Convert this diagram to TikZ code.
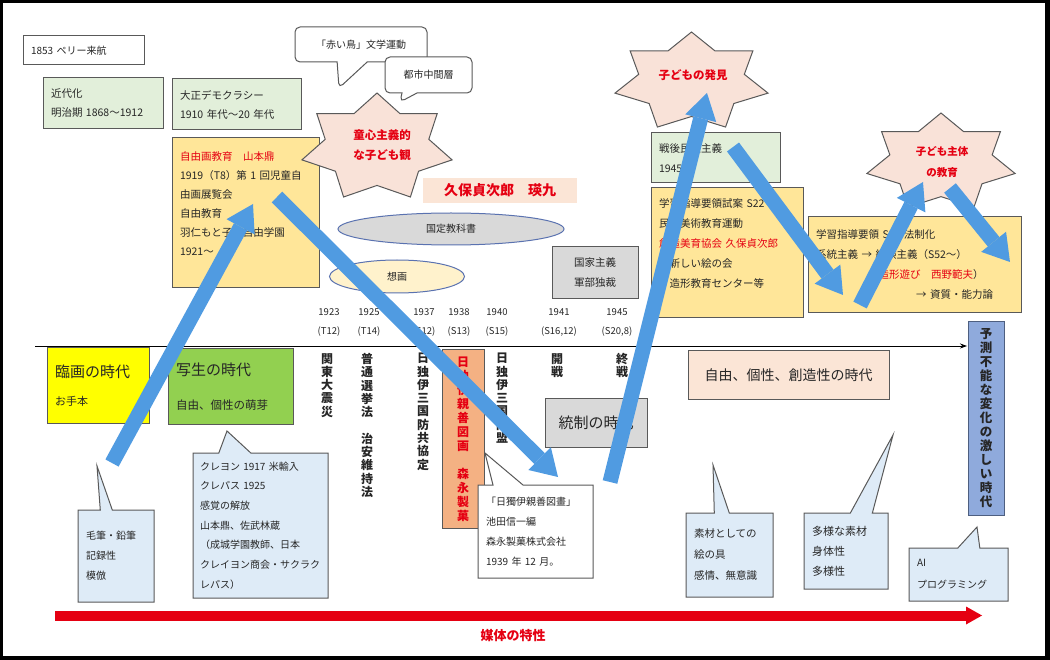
\documentclass[tikz,border=0pt]{standalone}
\usepackage{fontspec}
\setmainfont{Noto Sans CJK JP}
\usetikzlibrary{arrows.meta,shapes.geometric,shapes.callouts}

\definecolor{ink}{HTML}{262626}
\definecolor{edge}{HTML}{595959}
\definecolor{paleGreen}{HTML}{E2EFDA}
\definecolor{gold}{HTML}{FFE699}
\definecolor{peach}{HTML}{FBE5D6}
\definecolor{starPink}{HTML}{F9E2D8}
\definecolor{greyFill}{HTML}{D9D9D9}
\definecolor{cream}{HTML}{FFF2CC}
\definecolor{lemon}{HTML}{FFFF00}
\definecolor{leaf}{HTML}{92D050}
\definecolor{salmon}{HTML}{F4B183}
\definecolor{lav}{HTML}{8FAADC}
\definecolor{lavEdge}{HTML}{4E5F80}
\definecolor{skyPale}{HTML}{DEEBF7}
\definecolor{flowblue}{RGB}{80,155,225}
\definecolor{ellEdge}{HTML}{5A72B0}
\definecolor{hot}{HTML}{E50012}

\newcommand\jfs[2]{\fontsize{#1}{#2}\selectfont}
\newcommand\sevenstar[3]{%
  \begin{scope}[shift={#1}]
    \filldraw[burst] (90:#2pt and #3pt)
      \foreach \k [evaluate=\k as \r using {mod(\k,2)==0 ? 1 : 0.69}] in {1,...,13}
        { -- ({90+\k*360/14}:\r*#2pt and \r*#3pt) } -- cycle;
  \end{scope}}

\begin{document}
\begin{tikzpicture}[x=1pt,y=-1pt,text=ink,font=\jfs{10.5}{19},
    box/.style={draw=edge,line width=1pt,inner xsep=8pt,inner ysep=0pt,align=left},
    note/.style={rectangle callout,draw=edge,line width=1pt,fill=skyPale,
                 inner xsep=8pt,inner ysep=0pt,align=left,font=\jfs{10}{20}},
    burst/.style={draw=edge,line width=1pt,fill=starPink},
    star text/.style={align=center,text=hot,font=\jfs{11.5}{20}\bfseries},
    tate/.style={align=center,inner sep=0pt,anchor=north,font=\jfs{12}{13.3}\bfseries},
    year/.style={align=center,inner sep=0pt,font=\jfs{9.5}{19}},
    flow arrow/.style={draw=flowblue,line width=15pt,
                       -{Triangle[width=32pt,length=26pt,line width=0pt]}}]
  \fill (0,0) rectangle (1050,660);
  \fill[white] (3,3) rectangle (1045,656);

  \node[box,fill=white,text width=105pt,minimum height=29pt,font=\jfs{10}{19}] (perry) at (83.5,50.5) {1853 ペリー来航};
  \node[box,fill=paleGreen,text width=104pt,minimum height=51pt] (kindai) at (103,103.5) {近代化\\明治期 1868～1912};
  \node[box,fill=paleGreen,text width=113pt,minimum height=51pt] (taisho) at (236.5,104.5) {大正デモクラシー\\1910 年代～20 年代};
  \node[box,fill=gold,text width=131pt,minimum height=150pt] (jiyuga) at (245.5,213)
    {\textcolor{hot}{自由画教育　山本鼎}\\1919（T8）第 1 回児童自\\由画展覧会\\自由教育\\羽仁もと子　自由学園\\1921～\\\mbox{}};

  \node[box,fill=white,rounded corners=5pt,minimum width=132pt,minimum height=35pt,align=center,font=\jfs{10}{14},
        callout absolute pointer={(339,88)},callout pointer width=30pt,rectangle callout] (akai) at (361,44.5) {「赤い鳥」文学運動};
  \node[box,fill=white,rounded corners=5pt,minimum width=87pt,minimum height=36pt,align=center,font=\jfs{10}{14},
        callout absolute pointer={(400,102)},callout pointer width=15pt,rectangle callout] (toshi) at (428.5,75) {都市中間層};

  \sevenstar{(377,147.7)}{77}{54.7}
  \node[star text] (doshin) at (382,145) {童心主義的\\な子ども観};

  \node[fill=peach,minimum width=154pt,minimum height=25pt,text=hot,font=\jfs{14}{16}\bfseries] (kubo) at (500,190.5) {久保貞次郎　瑛九};
  \node[ellipse,draw=ellEdge,line width=1pt,fill=greyFill,minimum width=226pt,minimum height=32pt,font=\jfs{10}{12}] (kokutei) at (451,229) {国定教科書};
  \node[ellipse,draw=ellEdge,line width=1pt,fill=cream,minimum width=135pt,minimum height=33pt,font=\jfs{10}{12}] (soga) at (397,276.5) {想画};
  \node[box,fill=greyFill,minimum width=86pt,minimum height=52pt,align=center,font=\jfs{10.5}{20}] (kokka) at (595,273) {国家主義\\軍部独裁};

  \node[box,fill=paleGreen,text width=113pt,minimum height=50pt,font=\jfs{10.5}{20}] (sengo) at (715.5,158) {戦後民主主義\\1945};
  \node[box,fill=gold,text width=136pt,minimum height=130pt,font=\jfs{10.5}{20}] (shian) at (727,253)
    {学習指導要領試案 S22\\民間美術教育運動\\\textcolor{hot}{創造美育協会 久保貞次郎}\\・新しい絵の会\\・造形教育センター等\\\mbox{}};
  \node[box,fill=gold,text width=197pt,minimum height=96pt,font=\jfs{10.5}{20}] (hoseika) at (914.5,265)
    {学習指導要領 S33 法制化\\系統主義 → 経験主義（S52～）\\\hspace*{52pt}（\textcolor{hot}{造形遊び　西野範夫}）\\\hspace*{100pt}→ 資質・能力論};

  \sevenstar{(691.5,82)}{78.5}{50}
  \node[star text] (hakken) at (693,75) {子どもの発見};
  \sevenstar{(941,162.5)}{76}{49.5}
  \node[star text,font=\jfs{10.5}{21}\bfseries] (shutai) at (942,162) {子ども主体\\の教育};

  \node[year] (y1923) at (329,322.5) {1923\\(T12)};
  \node[year] (y1925) at (369,322.5) {1925\\(T14)};
  \node[year] (y1937) at (424,322.5) {1937\\(S12)};
  \node[year] (y1938) at (459,322.5) {1938\\(S13)};
  \node[year] (y1940) at (497,322.5) {1940\\(S15)};
  \node[year] (y1941) at (559,322.5) {1941\\(S16,12)};
  \node[year] (y1945) at (617,322.5) {1945\\(S20,8)};

  \coordinate (t0) at (35,346);
  \coordinate (t1) at (967,346);
  \draw[line width=0.8pt,-{Stealth[length=7pt,width=5pt]}] (t0) -- (t1);

  \node[box,fill=lemon,text width=86pt,minimum height=75pt,font=\jfs{15}{28}] (ringa) at (98,385.5) {臨画の時代\\{\jfs{11}{28}お手本}};
  \node[box,fill=leaf,text width=109pt,minimum height=75pt,font=\jfs{15}{34}] (shasei) at (230.5,386.5) {写生の時代\\{\jfs{11.5}{34}自由、個性の萌芽}};
  \node[box,fill=greyFill,minimum width=102pt,minimum height=49pt,align=center,font=\jfs{15}{18}] (tosei) at (596,422.5) {統制の時代};
  \node[box,fill=peach,minimum width=201pt,minimum height=48pt,align=center,font=\jfs{14}{18}] (sozo) at (788.5,375) {自由、個性、創造性の時代};
  \node[box,fill=salmon,minimum width=42pt,minimum height=178pt,align=center,inner xsep=0pt,text=hot,font=\jfs{12}{14}\bfseries] (morinaga) at (463,439)
    {日\\独\\伊\\親\\善\\図\\画\\\mbox{}\\森\\永\\製\\菓};
  \node[box,draw=lavEdge,fill=lav,minimum width=36pt,minimum height=193pt,align=center,inner xsep=0pt,font=\jfs{12.5}{14}\bfseries] (yosoku) at (986,418.5)
    {予\\測\\不\\能\\な\\変\\化\\の\\激\\し\\い\\時\\代};

  \node[tate] (kanto) at (327,353) {関\\東\\大\\震\\災};
  \node[tate] (senkyo) at (367,353) {普\\通\\選\\挙\\法\\\mbox{}\\治\\安\\維\\持\\法};
  \node[tate] (bokyo) at (423,353) {日\\独\\伊\\三\\国\\防\\共\\協\\定};
  \node[tate] (domei) at (502,353) {日\\独\\伊\\三\\国\\同\\盟};
  \node[tate] (kaisen) at (557,353) {開\\戦};
  \node[tate] (shusen) at (622,353) {終\\戦};

  \node[note,text width=60pt,minimum height=92pt,callout absolute pointer={(97,466)},callout pointer width=12pt] (mohitsu) at (116,556) {毛筆・鉛筆\\記録性\\模倣};
  \node[note,text width=121pt,inner xsep=7pt,minimum height=145pt,callout absolute pointer={(227,431)},callout pointer width=32pt,font=\jfs{10}{19.7}] (crayon) at (260.5,525.5)
    {クレヨン 1917 米輸入\\クレパス 1925\\感覚の解放\\山本鼎、佐武林蔵\\（成城学園教師、日本\\クレイヨン商会・サクラク\\レパス）};
  \node[note,fill=white,text width=99pt,minimum height=93pt,callout absolute pointer={(485,453)},callout pointer width=30pt] (nichidoku) at (535.5,531.5)
    {「日獨伊親善図畫」\\池田信一編\\森永製菓株式会社\\1939 年 12 月。};
  \node[note,text width=71pt,minimum height=84pt,callout absolute pointer={(713,465)},callout pointer width=15pt,font=\jfs{10.5}{21}] (sozai) at (729.5,555) {素材としての\\絵の具\\感情、無意識};
  \node[note,text width=68pt,minimum height=76pt,callout absolute pointer={(893,435)},callout pointer width=22pt,font=\jfs{11}{20}] (tayo) at (846,551) {多様な素材\\身体性\\多様性};
  \node[note,text width=83pt,minimum height=53pt,callout absolute pointer={(977,527)},callout pointer width=22pt,font=\jfs{10}{22}] (ai) at (958.5,574.5) {AI\\プログラミング};

  \coordinate (m0) at (55,615.5);
  \coordinate (m1) at (982,615.5);
  \draw[draw=hot,line width=10pt,-{Triangle[width=18pt,length=16pt,line width=0pt]}] (m0) -- (m1);
  \node[text=hot,font=\jfs{13}{16}\bfseries] (baitai) at (513,636) {媒体の特性};

  \coordinate (a1) at (112,463); \coordinate (b1) at (253,204);
  \coordinate (a2) at (277,197); \coordinate (b2) at (558,477);
  \coordinate (a3) at (610,482); \coordinate (b3) at (707,93);
  \coordinate (a4) at (733,147); \coordinate (b4) at (843,295);
  \coordinate (a5) at (860,305); \coordinate (b5) at (923,182);
  \coordinate (a6) at (950,188); \coordinate (b6) at (1010,262);
  \foreach \i in {1,...,6}
    \draw[flow arrow] (a\i) -- (b\i);
\end{tikzpicture}
\end{document}
